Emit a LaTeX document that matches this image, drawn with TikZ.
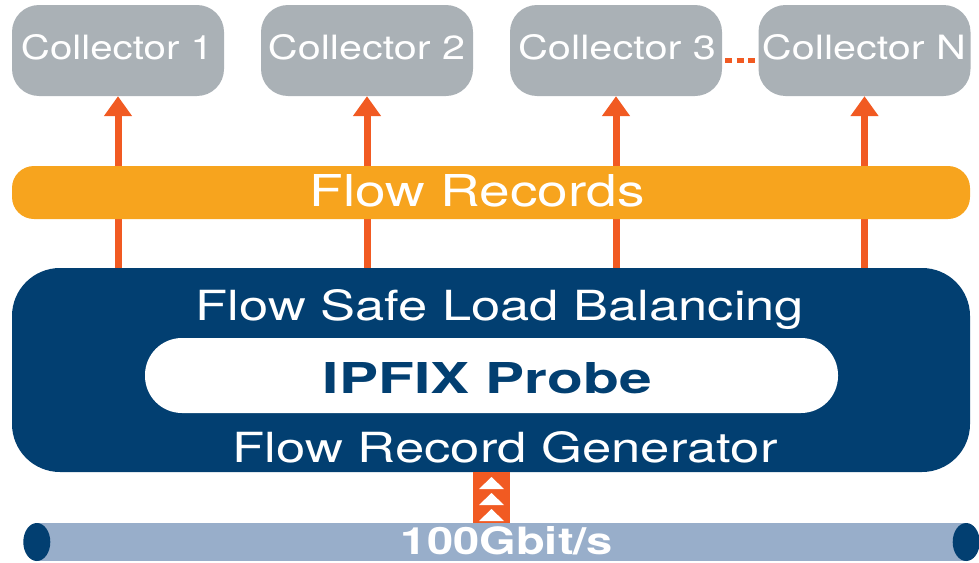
\documentclass[tikz,border=0pt]{standalone}
\usepackage{fontspec}
\usepackage{graphicx}
\setmainfont{TeX Gyre Heros}
\usetikzlibrary{arrows.meta,calc}
\definecolor{cgray}{HTML}{AAB1B6}
\definecolor{corange}{HTML}{F15A22}
\definecolor{camber}{HTML}{F7A41E}
\definecolor{cnavy}{HTML}{023F71}
\definecolor{cpipe}{HTML}{98AECA}
\newcommand{\fit}[3]{\resizebox{#1pt}{#2pt}{#3}}
\begin{document}
\begin{tikzpicture}[x=1pt,y=-1pt,
  collector/.style={fill=cgray,draw=none,rounded corners=27pt,minimum width=212pt,minimum height=91pt,inner sep=0pt},
  txt/.style={inner sep=0pt,anchor=base,text=white},
  arr/.style={draw=corange,line width=7pt,-{Triangle[width=27pt,length=20pt]}},
]
\useasboundingbox (0,0) rectangle (979,562);
% collectors
\node[collector] (c1) at (118,50.5) {};
\node[collector] (c2) at (367,50.5) {};
\node[collector] (c3) at (616,50.5) {};
\node[collector] (cN) at (864.5,50.5) {};
\node[txt] (t1) at (117,59.5) {\fit{192}{25}{Collector 1}};
\node[txt] (t2) at (366.5,59.5) {\fit{197}{25}{Collector 2}};
\node[txt] (t3) at (617,59.5) {\fit{198}{25}{Collector 3}};
\node[txt] (tN) at (864,59.5) {\fit{204}{25}{Collector N}};
\path (c3.east) ++(1,9.5) coordinate (d1) (cN.west) ++(-1,9.5) coordinate (d2);
\draw[corange,line width=5pt,dash pattern=on 7pt off 4.5pt] (d1) ++(2,0) -- (d2);
% main box
\node[fill=cnavy,rounded corners=48pt,minimum width=958pt,minimum height=204pt,inner sep=0pt] (main) at (491,370) {};
% arrows
\draw[arr] (c1.south |- main.north) -- (c1.south);
\draw[arr] (c2.south |- main.north) -- (c2.south);
\draw[arr] (c3.south |- main.north) -- (c3.south);
\draw[arr] (cN.south |- main.north) -- (cN.south);
% flow records bar
\node[fill=camber,rounded corners=22pt,minimum width=958pt,minimum height=53pt,inner sep=0pt] (fr) at (491,192.5) {};
\node[txt] (frt) at (477,206) {\fit{335}{32}{Flow Records}};
% inside main
\node[txt] (fslb) at (500,320) {\fit{608}{31}{Flow Safe Load Balancing}};
\node[fill=white,rounded corners=37pt,minimum width=693pt,minimum height=75pt,inner sep=0pt] (probe) at (491.5,375.5) {};
\node[txt,text=cnavy] (probet) at (487.5,393) {\fit{329}{31}{\bfseries IPFIX Probe}};
\node[txt] (frg) at (505,462) {\fit{545}{31}{Flow Record Generator}};
% pipe
\node[fill=cpipe,minimum width=929pt,minimum height=38pt,inner sep=0pt] (pipe) at (501.5,542) {};
\fill[cnavy] (pipe.west) ellipse [x radius=13.5pt,y radius=19pt];
\fill[cnavy] (pipe.east) ellipse [x radius=13.5pt,y radius=19pt];
% feed
\node[fill=corange,minimum width=37pt,minimum height=51pt,inner sep=0pt] (feed) at (491.5,497.5) {};
\foreach \yy in {477,493,509}{
  \fill[white] ($(feed.center)+(0,\yy-497.5)$) -- ++(12.5,12) -- ++(-25,0) -- cycle;
}
\node[txt] (gbit) at (507,554.5) {\fit{212}{28}{\bfseries 100Gbit/s}};
\end{tikzpicture}
\end{document}
